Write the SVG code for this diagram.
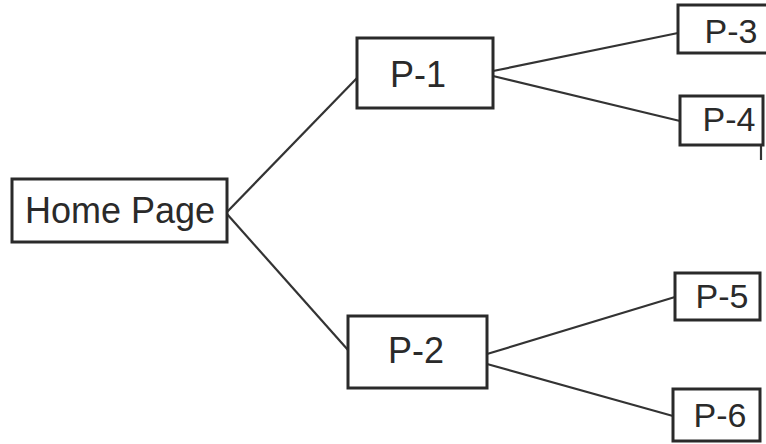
<svg xmlns="http://www.w3.org/2000/svg" width="766" height="444" viewBox="0 0 766 444">
<style>
.box{fill:#fff;stroke:#2a2a2a;stroke-width:3}
.lbl{font-family:"Liberation Sans",Arial,sans-serif;fill:#2a2a2a;text-anchor:middle}
.c line{stroke:#333;stroke-width:2.2}
</style>
<rect width="766" height="444" fill="#fff"/>
<g class="c" id="connectors">
<line x1="227" y1="212" x2="357" y2="78"/>
<line x1="227" y1="214" x2="348" y2="350"/>
<line x1="493" y1="71" x2="678" y2="33"/>
<line x1="493" y1="76" x2="680" y2="121"/>
<line x1="487" y1="354" x2="675" y2="297"/>
<line x1="487" y1="364" x2="673" y2="416"/>
<line x1="761" y1="145" x2="761" y2="160"/>
</g>
<g id="home"><rect class="box" x="12" y="179" width="215" height="63"/><text class="lbl" x="120" y="223" font-size="36">Home Page</text></g>
<g id="p1"><rect class="box" x="357" y="38" width="136" height="70"/><text class="lbl" x="418" y="87" font-size="36">P-1</text></g>
<g id="p2"><rect class="box" x="348" y="316" width="139" height="72"/><text class="lbl" x="416" y="363" font-size="36">P-2</text></g>
<g id="p3"><rect class="box" x="678" y="5" width="90" height="48"/><text class="lbl" x="731" y="43" font-size="34">P-3</text></g>
<g id="p4"><rect class="box" x="680" y="96" width="83" height="49"/><text class="lbl" x="729" y="131" font-size="34">P-4</text></g>
<g id="p5"><rect class="box" x="675" y="273" width="85" height="47"/><text class="lbl" x="722" y="308" font-size="34">P-5</text></g>
<g id="p6"><rect class="box" x="673" y="389" width="87" height="52"/><text class="lbl" x="720" y="427" font-size="34">P-6</text></g>
</svg>
